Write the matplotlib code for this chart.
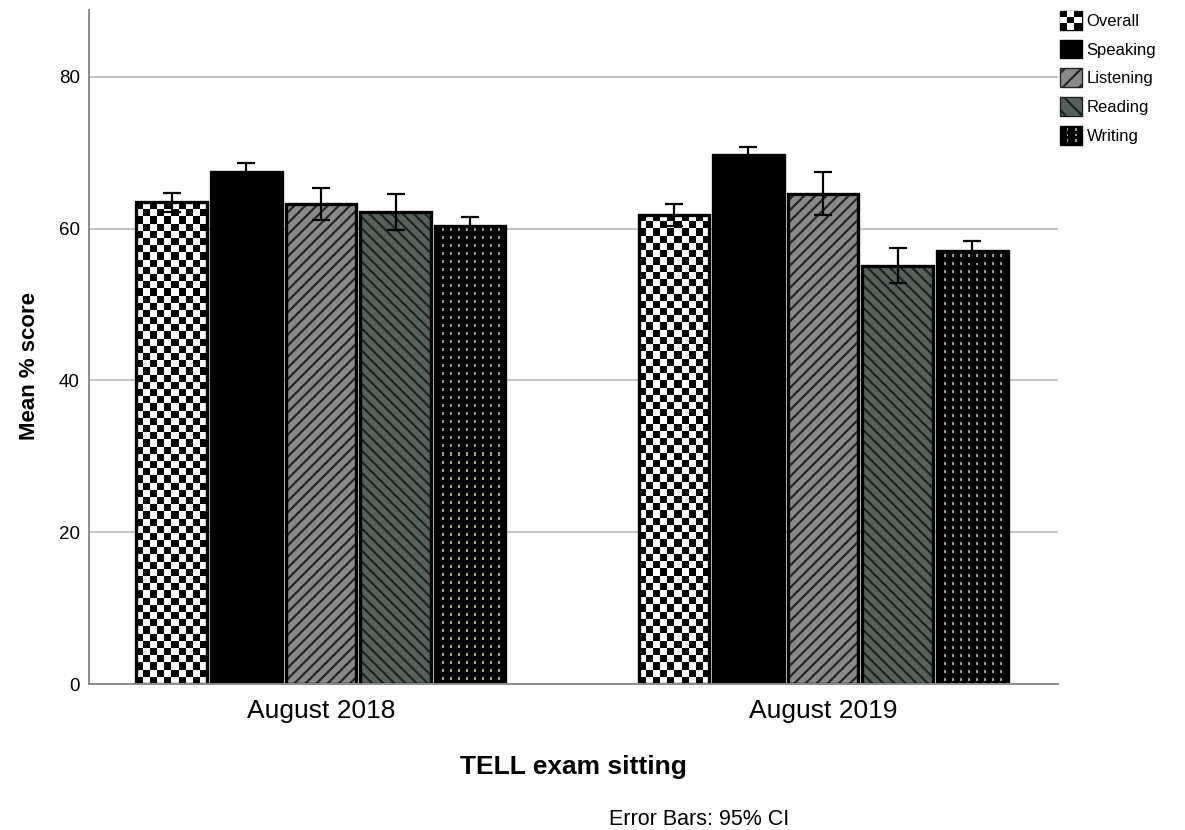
import numpy as np
import matplotlib
matplotlib.use("Agg")
import matplotlib.pyplot as plt
from matplotlib.patches import Rectangle, Patch
from matplotlib.legend_handler import HandlerBase

plt.rcParams['font.family'] = ['Liberation Sans', 'DejaVu Sans']
plt.rcParams['hatch.linewidth'] = 1.6

# mean % score per skill and sitting, with 95% CI half-widths
sittings = ['August 2018', 'August 2019']
skills = ['Overall', 'Speaking', 'Listening', 'Reading', 'Writing']
means = {
    'Overall':   [63.5, 61.8],
    'Speaking':  [67.5, 69.7],
    'Listening': [63.2, 64.6],
    'Reading':   [62.2, 55.1],
    'Writing':   [60.4, 57.0],
}
ci = {
    'Overall':   [1.25, 1.4],
    'Speaking':  [1.2, 1.0],
    'Listening': [2.1, 2.8],
    'Reading':   [2.4, 2.3],
    'Writing':   [1.1, 1.4],
}

W, H, DPI = 1185, 830, 100
fig = plt.figure(figsize=(W / DPI, H / DPI), dpi=DPI)
ax = fig.add_axes([89 / W, 1 - 684 / H, 969 / W, 674 / H])
ax.set_xlim(-0.462, 1.468)
ax.set_ylim(0, 88.8)

step = 0.1485
width = 0.141
grid_c = '#c4c4c4'


def px_size(x0, x1, y0, y1):
    p0 = ax.transData.transform((x0, y0))
    p1 = ax.transData.transform((x1, y1))
    return abs(p1[0] - p0[0]), abs(p1[1] - p0[1])


def checker_img(wpx, hpx, cell=7.2):
    nc = max(1, int(round(wpx / cell)))
    nr = max(1, int(round(hpx / cell)))
    i, j = np.indices((nr, nc))
    return ((i + j) % 2).astype(float)


def dots_img(wpx, hpx):
    w, h = int(round(wpx)), int(round(hpx))
    img = np.zeros((h, w, 3))
    dot = np.array([0.62, 0.62, 0.52])
    for r in range(3, h, 8):
        for c in range(7, w - 3, 8):
            img[r:r + 3, c:c + 2] = dot
    return img


styles = {
    'Overall':   dict(face='black', hatch=None, hc=None),
    'Speaking':  dict(face='black', hatch=None, hc=None),
    'Listening': dict(face='#8a8a8a', hatch='///', hc='#262626'),
    'Reading':   dict(face='#56615b', hatch='\\\\\\', hc='#1e2420'),
    'Writing':   dict(face='black', hatch=None, hc=None),
}

x = np.arange(len(sittings))
for k, skill in enumerate(skills):
    xs = x + (k - 2) * step
    st = styles[skill]
    bars = ax.bar(xs, means[skill], width=width, color=st['face'],
                  edgecolor='none', zorder=2)
    for b in bars:
        x0, y0 = b.get_x(), 0
        x1, y1 = b.get_x() + b.get_width(), b.get_height()
        wpx, hpx = px_size(x0, x1, y0, y1)
        if skill == 'Overall':
            im = ax.imshow(checker_img(wpx, hpx), cmap='gray', vmin=0, vmax=1,
                           extent=[x0, x1, y0, y1], aspect='auto',
                           interpolation='nearest', zorder=2.1)
            im.set_clip_path(b)
        elif skill == 'Writing':
            im = ax.imshow(dots_img(wpx, hpx), extent=[x0, x1, y0, y1],
                           aspect='auto', interpolation='nearest', zorder=2.1)
            im.set_clip_path(b)
        elif st['hatch']:
            ax.add_patch(Rectangle((x0, y0), x1 - x0, y1 - y0, facecolor='none',
                                   edgecolor=st['hc'], hatch=st['hatch'],
                                   linewidth=0, zorder=2.2))
        ax.add_patch(Rectangle((x0, y0), x1 - x0, y1 - y0, facecolor='none',
                               edgecolor='black', linewidth=2.4, zorder=2.5))
    ax.errorbar(xs, means[skill], yerr=ci[skill], fmt='none', ecolor='black',
                elinewidth=1.6, capsize=6.5, capthick=1.6, zorder=3)

ax.set_xlim(-0.462, 1.468)
ax.set_ylim(0, 88.8)

# axes styling
ax.set_yticks([0, 20, 40, 60, 80])
ax.set_xticks(x)
ax.set_xticklabels(sittings, fontsize=19)
ax.tick_params(axis='y', length=0, pad=6.5, labelsize=13.5)
ax.tick_params(axis='x', length=0, pad=11)
ax.yaxis.grid(True, color=grid_c, linewidth=1.5, zorder=0)
ax.set_axisbelow(True)
for s in ['top', 'right']:
    ax.spines[s].set_visible(False)
ax.spines['left'].set_color('#8c8c8c')
ax.spines['bottom'].set_color('#8c8c8c')
ax.spines['left'].set_linewidth(1.4)
ax.spines['bottom'].set_linewidth(1.4)

ax.set_ylabel('Mean % score', fontsize=16, fontweight='bold')
ax.yaxis.set_label_coords(-0.0506, 0.472)
fig.text(573.5 / W, 1 - 767 / H, 'TELL exam sitting', fontsize=19,
         fontweight='bold', ha='center', va='center')
fig.text(699 / W, 1 - 819 / H, 'Error Bars: 95% CI', fontsize=15.5,
         ha='center', va='center')


# legend swatches
class CheckerHandler(HandlerBase):
    def create_artists(self, legend, orig, xd, yd, w, h, fontsize, trans):
        arts = [Rectangle((-xd, -yd), w, h, facecolor='black', edgecolor='black',
                          linewidth=1, transform=trans)]
        cw, ch = w / 3, h / 3
        for i in range(3):
            for j in range(3):
                if (i + j) % 2 == 1:
                    arts.append(Rectangle((-xd + i * cw, -yd + j * ch), cw, ch,
                                          facecolor='white', edgecolor='none',
                                          transform=trans))
        return arts


class DotsHandler(HandlerBase):
    def create_artists(self, legend, orig, xd, yd, w, h, fontsize, trans):
        arts = [Rectangle((-xd, -yd), w, h, facecolor='black', edgecolor='black',
                          linewidth=1, transform=trans)]
        for cx in (0.3, 0.7):
            for cy in (0.15, 0.45, 0.75):
                arts.append(Rectangle((-xd + cx * w, -yd + cy * h), w * 0.08,
                                      h * 0.14, facecolor='#9e9e85',
                                      edgecolor='none', transform=trans))
        return arts


h_over = Patch(label='Overall')
h_speak = Patch(facecolor='black', edgecolor='black', label='Speaking')
h_listen = Patch(facecolor='#8a8a8a', edgecolor='#262626', hatch='//',
                 linewidth=1, label='Listening')
h_read = Patch(facecolor='#56615b', edgecolor='#1e2420', hatch='\\\\',
               linewidth=1, label='Reading')
h_write = Patch(label='Writing')

fig.legend([h_over, h_speak, h_listen, h_read, h_write], skills,
           handler_map={h_over: CheckerHandler(), h_write: DotsHandler()},
           loc='upper left', bbox_to_anchor=(1060 / W, 1 - 11 / H),
           frameon=False, fontsize=12, handlelength=1.3, handleheight=1.35,
           handletextpad=0.3, labelspacing=0.6, borderpad=0, borderaxespad=0)

fig.savefig('out.png', dpi=DPI)
